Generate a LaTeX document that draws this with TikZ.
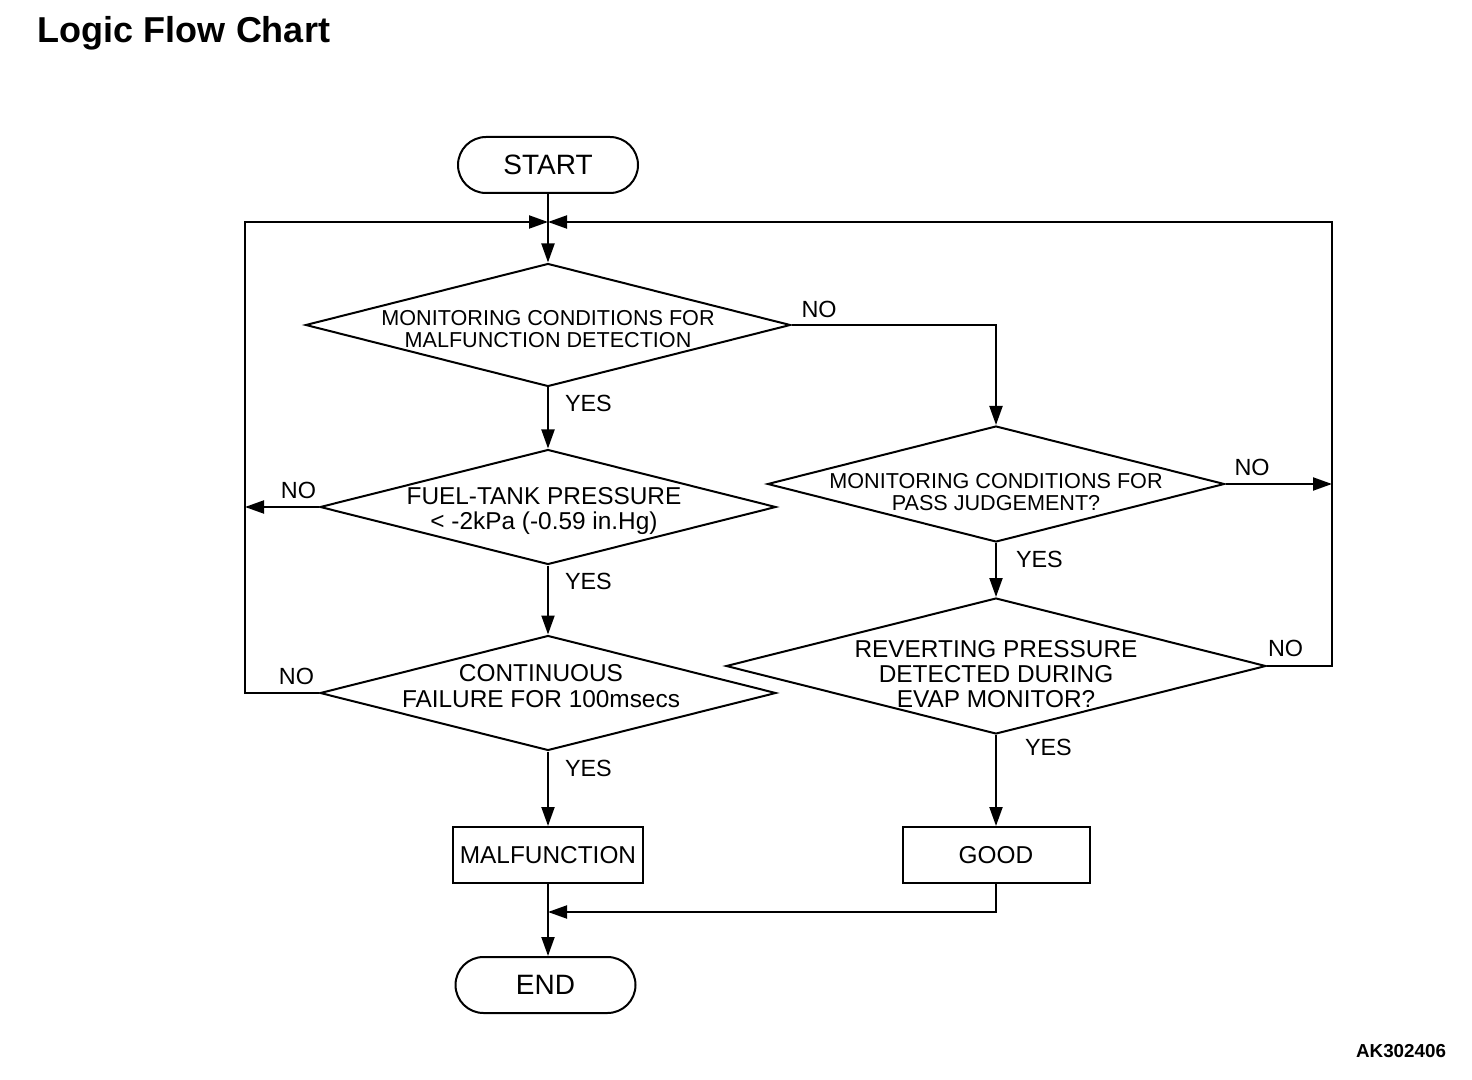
\documentclass[tikz,border=0pt]{standalone}
\usepackage{fontspec}
\setmainfont{Liberation Sans}
\usetikzlibrary{shapes.geometric,arrows.meta}

\tikzset{
  arr/.style={-{Triangle[length=9.5pt,width=6.5pt]}},
  decision/.style={draw,diamond,inner sep=0pt},
  terminal/.style={draw,rectangle,rounded corners=14pt,minimum width=90pt,minimum height=28pt,font=\fontsize{14}{16}\selectfont},
  action/.style={draw,rectangle,minimum width=93.5pt,minimum height=28pt,font=\fontsize{12.2}{14}\selectfont},
  lbl/.style={inner sep=0pt,font=\fontsize{11.7}{13}\selectfont},
  small/.style={inner sep=0pt,align=center,font=\fontsize{10.8}{11}\selectfont},
  big/.style={inner sep=0pt,align=center,font=\fontsize{12.2}{12.6}\selectfont}
}

\begin{document}
\begin{tikzpicture}[x=0.5pt,y=-0.5pt,line width=1pt]
  \useasboundingbox (0,0) rectangle (1472,1080);

  \node[anchor=base west,inner sep=0pt,font=\bfseries\fontsize{18}{20}\selectfont] (title) at (37,43) {Logic Flow Chart};
  \node[anchor=base east,inner sep=0pt,font=\bfseries\fontsize{9.4}{11}\selectfont] (code) at (1447,1057) {AK302406};

  % boxes
  \node[terminal] (start) at (548,165) {START};
  \node[decision,minimum width=242.5pt,minimum height=61.5pt] (d1) at (548,325) {};
  \node[decision,minimum width=228pt,minimum height=57.5pt] (d2) at (548,507) {};
  \node[decision,minimum width=228pt,minimum height=57.5pt] (d4) at (548,693) {};
  \node[decision,minimum width=228.5pt,minimum height=58pt] (d3) at (996,484) {};
  \node[decision,minimum width=270pt,minimum height=68pt] (d5) at (996,666) {};
  \node[action] (malf) at (548,855) {MALFUNCTION};
  \node[action] (good) at (996,855) {GOOD};
  \node[terminal] (end) at (545.5,985) {END};

  % texts in the diamonds
  \node[small] (d1t) at (548,329) {MONITORING CONDITIONS FOR\\MALFUNCTION DETECTION};
  \node[big] (d2t) at (544,511) {FUEL-TANK PRESSURE\\\textless{} -2kPa (-0.59 in.Hg)};
  \node[big] (d4t) at (541,686) {CONTINUOUS\\FAILURE FOR 100msecs};
  \node[small] (d3t) at (996,492) {MONITORING CONDITIONS FOR\\PASS JUDGEMENT?};
  \node[big] (d5t) at (996,674) {REVERTING PRESSURE\\DETECTED DURING\\EVAP MONITOR?};

  \coordinate (join) at (548,222);
  \coordinate (lft) at (245,222);
  \coordinate (rgt) at (1332,222);
  \coordinate (merge) at (548,912);

  % connectors
  \draw[arr] (start.south) -- (d1.north);
  \draw[arr] (d1.south) -- (d2.north);
  \draw[arr] (d2.south) -- (d4.north);
  \draw[arr] (d4.south) -- (malf.north);
  \draw[arr] (malf.south) -- (malf.south |- end.north);
  \draw[arr] (d1.east) -| (d3.north);
  \draw[arr] (d3.south) -- (d5.north);
  \draw[arr] (d5.south) -- (good.north);
  \draw[arr] (good.south) |- (merge);
  \draw[arr] (d2.west) -- (d2.west -| lft);
  \draw[arr] (d4.west) -| (lft) -- (join);
  \draw[arr] (d3.east) -- (d3.east -| rgt);
  \draw[arr] (d5.east) -| (rgt) -- (join);

  % labels
  \node[lbl,anchor=north west] (y1) at ([shift={(16,7)}]d1.south) {YES};
  \node[lbl,anchor=north west] (y2) at ([shift={(16,7)}]d2.south) {YES};
  \node[lbl,anchor=north west] (y4) at ([shift={(16,8)}]d4.south) {YES};
  \node[lbl,anchor=north west] (y3) at ([shift={(19,7)}]d3.south) {YES};
  \node[lbl,anchor=north west] (y5) at ([shift={(28,3)}]d5.south) {YES};
  \node[lbl,anchor=south west] (n1) at ([shift={(9,-6)}]d1.east) {NO};
  \node[lbl,anchor=south east] (n2) at ([shift={(-2,-7)}]d2.west) {NO};
  \node[lbl,anchor=south east] (n4) at ([shift={(-4,-7)}]d4.west) {NO};
  \node[lbl,anchor=south west] (n3) at ([shift={(8,-7)}]d3.east) {NO};
  \node[lbl,anchor=south west] (n5) at ([shift={(0,-8)}]d5.east) {NO};
\end{tikzpicture}
\end{document}
